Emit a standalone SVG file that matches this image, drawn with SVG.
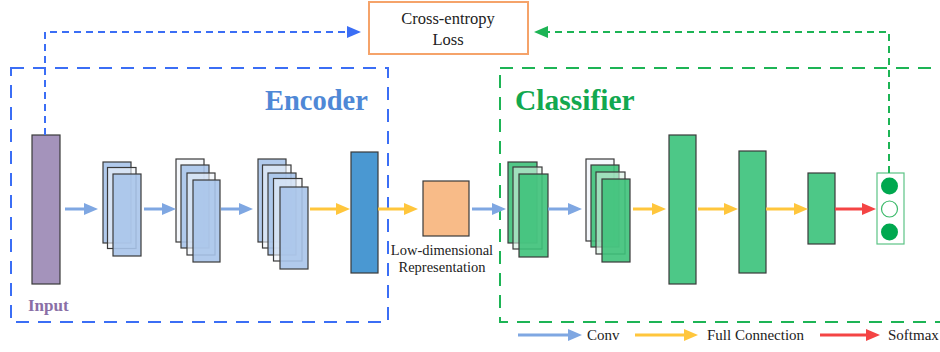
<svg xmlns="http://www.w3.org/2000/svg" width="940" height="352" viewBox="0 0 940 352">
<style>
.blk{stroke:#3a3a3a;stroke-width:1.2}
.bl{fill:#a8c4ea;fill-opacity:0.9}
.wh{fill:#eef3fa;fill-opacity:0.6}
.gr{fill:#3ec27a;fill-opacity:0.9}
.gw{fill:#d4efdf;fill-opacity:0.6}
.conv{stroke:#7fa7e2;stroke-width:3;fill:none}
.fc{stroke:#ffc63c;stroke-width:3;fill:none}
.sm{stroke:#f44444;stroke-width:3;fill:none}
</style>
<defs>
<marker id="hConv" markerUnits="userSpaceOnUse" markerWidth="14" markerHeight="12" refX="4" refY="6" orient="auto"><path d="M0,0 L14,6 L0,12 z" fill="#7fa7e2"/></marker>
<marker id="hFc" markerUnits="userSpaceOnUse" markerWidth="14" markerHeight="12" refX="4" refY="6" orient="auto"><path d="M0,0 L14,6 L0,12 z" fill="#ffc63c"/></marker>
<marker id="hSm" markerUnits="userSpaceOnUse" markerWidth="14" markerHeight="12" refX="4" refY="6" orient="auto"><path d="M0,0 L14,6 L0,12 z" fill="#f44444"/></marker>
<marker id="hBlue" markerUnits="userSpaceOnUse" markerWidth="14" markerHeight="12" refX="3" refY="6" orient="auto"><path d="M0,0 L14,6 L0,12 z" fill="#3b6ef5"/></marker>
<marker id="hGreen" markerUnits="userSpaceOnUse" markerWidth="14" markerHeight="12" refX="3" refY="6" orient="auto"><path d="M0,0 L14,6 L0,12 z" fill="#1db455"/></marker>
</defs>

<g font-family="Liberation Serif, Times New Roman, serif">
<g id="encoder-box">
<rect x="11" y="68" width="377" height="254" fill="none" stroke="#3b6ef5" stroke-width="2" stroke-dasharray="13,9"/>
<text x="265" y="110" font-weight="bold" font-size="28.5" fill="#4f88d6">Encoder</text>
</g>
<g id="classifier-box">
<rect x="500" y="68" width="460" height="254" fill="none" stroke="#1db455" stroke-width="2" stroke-dasharray="13,9"/>
<text x="515" y="110" font-weight="bold" font-size="29.5" fill="#12a84f">Classifier</text>
</g>

<g id="loss">
<rect x="369" y="2" width="159" height="52" fill="#fff" stroke="#f5a36a" stroke-width="2"/>
<text x="448" y="24" font-size="16.5" fill="#222" text-anchor="middle">Cross-entropy</text>
<text x="448" y="45" font-size="16.5" fill="#222" text-anchor="middle">Loss</text>
</g>

<g id="input">
<rect x="32" y="135" width="28" height="149" fill="#a493bb" class="blk"/>
<text x="28" y="311" font-weight="bold" font-size="17" fill="#8a6fa6">Input</text>
</g>

<g id="conv1">
<rect x="103" y="162" width="28" height="81" class="bl blk"/>
<rect x="107.5" y="167.5" width="28.5" height="81" class="wh blk"/>
<rect x="113" y="174" width="28" height="82" class="bl blk"/>
</g>
<g id="conv2">
<rect x="176" y="159" width="28" height="83" class="wh blk"/>
<rect x="181" y="165" width="28" height="83" class="bl blk"/>
<rect x="187" y="173" width="28" height="82" class="wh blk"/>
<rect x="193" y="180" width="27" height="82" class="bl blk"/>
</g>
<g id="conv3">
<rect x="258" y="159" width="28" height="83" class="bl blk"/>
<rect x="262.5" y="165" width="28.5" height="83" class="wh blk"/>
<rect x="268" y="173" width="28" height="82" class="bl blk"/>
<rect x="273.5" y="178.5" width="28.5" height="82.5" class="wh blk"/>
<rect x="280" y="187" width="28" height="82" class="bl blk"/>
</g>
<g id="encoder-fc">
<rect x="351" y="152" width="27" height="121" fill="#4a98d2" class="blk"/>
</g>
<g id="latent">
<rect x="423" y="181" width="46" height="55" fill="#f8bb88" class="blk"/>
<text x="442" y="255" font-size="14.5" fill="#222" text-anchor="middle">Low-dimensional</text>
<text x="442" y="272" font-size="14.5" fill="#222" text-anchor="middle">Representation</text>
</g>

<g id="cls-conv1">
<rect x="508" y="162" width="29" height="81" class="gr blk"/>
<rect x="513" y="167" width="29" height="82" class="gw blk"/>
<rect x="519" y="174" width="29" height="83" class="gr blk"/>
</g>
<g id="cls-conv2">
<rect x="586" y="159" width="28" height="82" class="wh blk"/>
<rect x="591" y="165" width="28" height="82" class="gr blk"/>
<rect x="596" y="172" width="29" height="82" class="gw blk"/>
<rect x="602" y="179" width="28" height="83" class="gr blk"/>
</g>
<g id="fc1"><rect x="669" y="135" width="27" height="149" fill="#4dc887" class="blk"/></g>
<g id="fc2"><rect x="739" y="151" width="27" height="122" fill="#4dc887" class="blk"/></g>
<g id="fc3"><rect x="808" y="173" width="27" height="71" fill="#4dc887" class="blk"/></g>
<g id="output">
<rect x="877" y="173" width="27" height="71" fill="#fff" stroke="#5cc485" stroke-width="1.2"/>
<circle cx="889.5" cy="186" r="8.5" fill="#00a84f"/>
<circle cx="889.5" cy="209" r="8" fill="#fff" stroke="#3cba6a" stroke-width="1.2"/>
<circle cx="889.5" cy="232" r="8.5" fill="#00a84f"/>
</g>

<g id="connectors">
<path d="M45,135 V32 H350" fill="none" stroke="#3b6ef5" stroke-width="2" stroke-dasharray="7,5" marker-end="url(#hBlue)"/>
<path d="M889,173 V32 H545" fill="none" stroke="#1db455" stroke-width="2" stroke-dasharray="7,5" marker-end="url(#hGreen)"/>
<path d="M65,209 H88" class="conv" marker-end="url(#hConv)"/>
<path d="M144,209 H166" class="conv" marker-end="url(#hConv)"/>
<path d="M221,209 H243" class="conv" marker-end="url(#hConv)"/>
<path d="M310,209 H340" class="fc" marker-end="url(#hFc)"/>
<path d="M378,209 H408" class="fc" marker-end="url(#hFc)"/>
<path d="M472,209 H496" class="conv" marker-end="url(#hConv)"/>
<path d="M548,209 H572" class="conv" marker-end="url(#hConv)"/>
<path d="M633,209 H656" class="fc" marker-end="url(#hFc)"/>
<path d="M698,209 H728" class="fc" marker-end="url(#hFc)"/>
<path d="M766,209 H798" class="fc" marker-end="url(#hFc)"/>
<path d="M835,209 H866" class="sm" marker-end="url(#hSm)"/>
</g>

<g id="legend">
<path d="M518,335 H572" class="conv" marker-end="url(#hConv)"/>
<text x="587" y="340" font-size="15" fill="#222">Conv</text>
<path d="M635,335 H688" class="fc" marker-end="url(#hFc)"/>
<text x="707" y="340" font-size="15" fill="#222">Full Connection</text>
<path d="M820,335 H870" class="sm" marker-end="url(#hSm)"/>
<text x="888" y="340" font-size="15" fill="#222">Softmax</text>
</g>
</g>
</svg>
